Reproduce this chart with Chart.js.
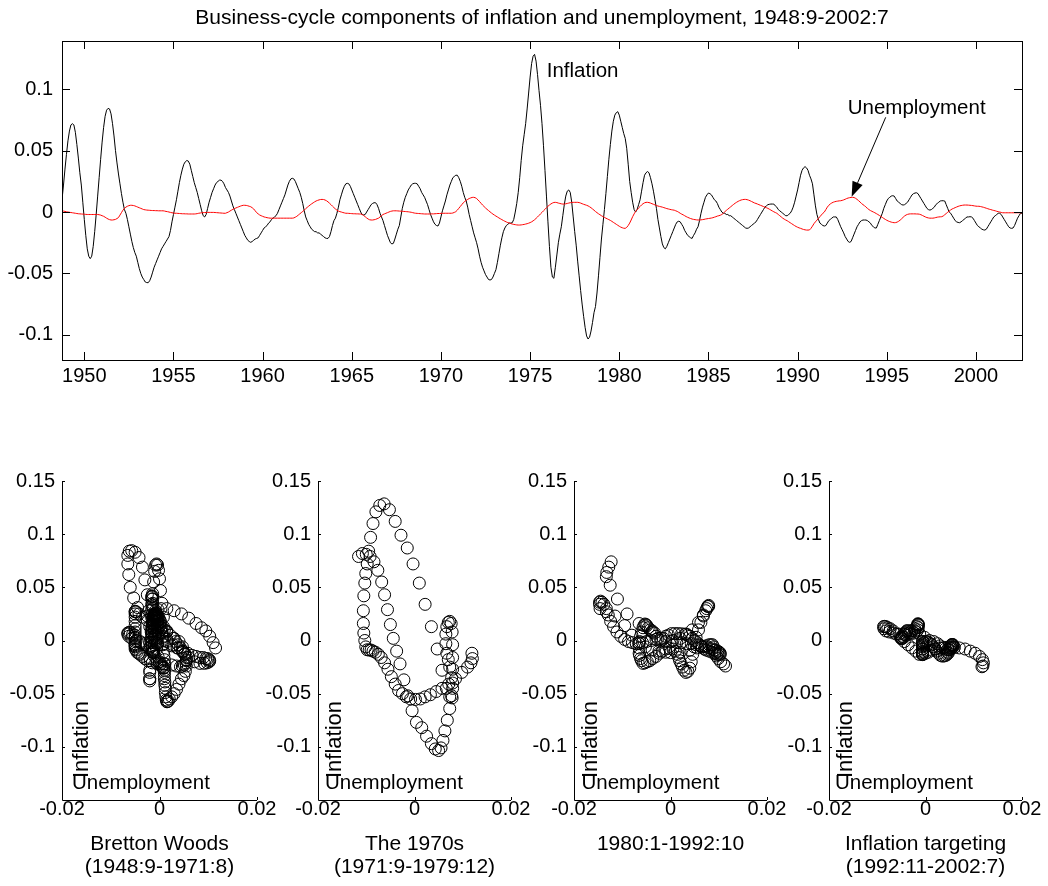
<!DOCTYPE html>
<html><head><meta charset="utf-8">
<script src="https://cdn.jsdelivr.net/npm/chart.js@4.4.1/dist/chart.umd.min.js"></script>
<style>
html,body{margin:0;padding:0;background:#fff;width:1048px;height:886px;overflow:hidden;}
canvas{position:absolute;}
</style></head><body>
<canvas id="top" width="1048" height="400" style="left:0;top:0"></canvas>
<canvas id="p0"></canvas><canvas id="p1"></canvas><canvas id="p2"></canvas><canvas id="p3"></canvas>
<script>
// ---- data (monthly, 1948:9 - 2002:7) ----
const startYear = 1948, startMonth = 9;
const inflation = [
 0.010,0.022,0.035,0.047,
 0.058,0.066,0.071,0.072,0.071,0.065,0.055,0.044,0.032,0.022,0.008,-0.006,
 -0.019,-0.030,-0.036,-0.038,-0.036,-0.028,-0.016,-0.002,0.013,0.028,0.043,0.057,
 0.069,0.078,0.083,0.0845,0.084,0.080,0.072,0.062,0.050,0.040,0.031,0.023,
 0.015,0.008,0.002,-0.001,-0.006,-0.012,-0.018,-0.024,-0.029,-0.033,-0.036,-0.041,
 -0.046,-0.050,-0.053,-0.055,-0.057,-0.0575,-0.0576,-0.056,-0.053,-0.049,-0.045,-0.042,
 -0.039,-0.036,-0.033,-0.030,-0.028,-0.026,-0.024,-0.022,-0.020,-0.015,-0.008,-0.002,
 0.004,0.010,0.017,0.024,0.030,0.035,0.039,0.041,0.042,0.0415,0.039,0.034,
 0.029,0.024,0.020,0.016,0.011,0.006,0.001,-0.003,-0.004,-0.002,0.003,0.008,
 0.012,0.016,0.019,0.022,0.024,0.025,0.026,0.026,0.025,0.023,0.020,0.018,
 0.016,0.013,0.009,0.005,0.002,-0.001,-0.004,-0.007,-0.010,-0.013,-0.016,-0.019,
 -0.021,-0.023,-0.024,-0.0247,-0.024,-0.023,-0.022,-0.0215,-0.021,-0.019,-0.017,-0.015,
 -0.013,-0.012,-0.011,-0.009,-0.008,-0.006,-0.005,-0.004,-0.003,-0.001,0.002,0.005,
 0.008,0.011,0.014,0.018,0.022,0.025,0.027,0.0275,0.027,0.025,0.022,0.019,
 0.016,0.012,0.007,0.001,-0.004,-0.007,-0.010,-0.012,-0.014,-0.015,-0.016,-0.016,
 -0.017,-0.017,-0.018,-0.019,-0.020,-0.021,-0.0215,-0.0215,-0.020,-0.016,-0.011,-0.007,
 -0.005,-0.001,0.004,0.010,0.014,0.018,0.021,0.023,0.0234,0.023,0.021,0.018,
 0.015,0.012,0.009,0.006,0.003,0.000,-0.002,-0.0024,-0.002,0.000,0.002,0.004,
 0.006,0.007,0.0076,0.0076,0.006,0.003,-0.001,-0.004,-0.007,-0.011,-0.015,-0.019,
 -0.022,-0.025,-0.026,-0.0255,-0.022,-0.018,-0.014,-0.011,-0.004,0.003,0.008,0.012,
 0.015,0.018,0.020,0.022,0.023,0.0234,0.0234,0.023,0.021,0.019,0.016,0.014,
 0.012,0.009,0.006,0.002,-0.002,-0.005,-0.008,-0.010,-0.011,-0.0114,-0.009,-0.004,
 0.001,0.005,0.009,0.014,0.018,0.022,0.025,0.028,0.029,0.030,0.030,0.028,
 0.025,0.021,0.016,0.012,0.009,0.004,-0.002,-0.007,-0.012,-0.017,-0.021,-0.025,
 -0.030,-0.036,-0.041,-0.045,-0.048,-0.051,-0.053,-0.055,-0.0554,-0.055,-0.053,-0.050,
 -0.047,-0.041,-0.034,-0.027,-0.021,-0.016,-0.013,-0.011,-0.010,-0.009,-0.009,-0.0087,
 -0.006,0.000,0.007,0.016,0.028,0.042,0.054,0.063,0.072,0.084,0.097,0.110,
 0.121,0.127,0.1285,0.123,0.112,0.099,0.087,0.072,0.054,0.034,0.013,-0.008,
 -0.028,-0.045,-0.053,-0.054,-0.045,-0.035,-0.025,-0.018,-0.012,-0.003,0.006,0.013,
 0.017,0.018,0.016,0.008,-0.004,-0.016,-0.027,-0.040,-0.052,-0.064,-0.075,-0.085,
 -0.094,-0.101,-0.1035,-0.102,-0.097,-0.090,-0.082,-0.077,-0.066,-0.052,-0.037,-0.022,
 -0.010,0.002,0.015,0.029,0.043,0.055,0.066,0.074,0.079,0.081,0.0818,0.079,
 0.074,0.069,0.064,0.060,0.052,0.039,0.025,0.016,0.008,0.002,0.000,0.002,
 0.006,0.010,0.017,0.024,0.030,0.032,0.033,0.032,0.028,0.023,0.017,0.010,
 0.003,-0.006,-0.013,-0.020,-0.026,-0.029,-0.030,-0.028,-0.025,-0.022,-0.019,-0.016,
 -0.013,-0.010,-0.008,-0.0075,-0.008,-0.010,-0.012,-0.015,-0.017,-0.019,-0.020,-0.021,
 -0.0215,-0.019,-0.017,-0.014,-0.012,-0.007,-0.001,0.004,0.008,0.012,0.014,0.0155,
 0.015,0.014,0.012,0.010,0.009,0.007,0.004,0.002,0.000,-0.001,-0.001,-0.002,
 -0.002,-0.003,-0.003,-0.004,-0.005,-0.006,-0.007,-0.008,-0.009,-0.010,-0.011,-0.012,
 -0.013,-0.0133,-0.013,-0.012,-0.011,-0.010,-0.009,-0.008,-0.006,-0.004,-0.002,0.000,
 0.002,0.004,0.005,0.006,0.0063,0.0065,0.0065,0.0065,0.005,0.004,0.002,0.001,
 0.000,-0.001,-0.002,-0.003,-0.003,-0.002,-0.001,0.001,0.004,0.008,0.013,0.018,
 0.024,0.030,0.034,0.036,0.037,0.036,0.034,0.030,0.027,0.023,0.014,0.005,
 -0.002,-0.006,-0.009,-0.010,-0.011,-0.0114,-0.011,-0.009,-0.007,-0.006,-0.005,-0.004,
 -0.004,-0.004,-0.006,-0.009,-0.012,-0.0145,-0.017,-0.020,-0.022,-0.024,-0.0247,-0.024,
 -0.021,-0.018,-0.015,-0.012,-0.010,-0.008,-0.007,-0.0065,-0.0065,-0.0065,-0.007,-0.008,
 -0.009,-0.011,-0.012,-0.013,-0.013,-0.010,-0.007,-0.004,-0.001,0.003,0.006,0.009,
 0.011,0.012,0.013,0.0133,0.013,0.011,0.009,0.008,0.007,0.006,0.0057,0.006,
 0.007,0.008,0.010,0.012,0.014,0.015,0.0155,0.0157,0.015,0.013,0.011,0.009,
 0.007,0.005,0.003,0.002,0.0016,0.002,0.003,0.004,0.006,0.007,0.008,0.009,
 0.0092,0.0092,0.009,0.006,0.003,0.000,-0.001,-0.003,-0.005,-0.007,-0.008,-0.0085,
 -0.0087,-0.008,-0.007,-0.006,-0.005,-0.004,-0.004,-0.0038,-0.004,-0.005,-0.007,-0.009,
 -0.011,-0.012,-0.013,-0.014,-0.0145,-0.0147,-0.014,-0.012,-0.010,-0.008,-0.006,-0.004,
 -0.003,-0.002,-0.001,-0.001,-0.002,-0.004,-0.006,-0.008,-0.010,-0.012,-0.013,-0.0133,
 -0.013,-0.011,-0.008,-0.005,-0.003,-0.001,-0.001
];
const unemployment = [
 0.001,0.0008,0.0005,0.0002,
 0.000,-0.0002,-0.0004,-0.0006,-0.0008,-0.001,-0.0012,-0.0014,-0.0015,-0.0016,-0.0017,-0.0018,
 -0.0019,-0.002,-0.002,-0.002,-0.002,-0.002,-0.002,-0.002,-0.002,-0.0022,-0.0025,-0.003,
 -0.0035,-0.0042,-0.005,-0.0057,-0.0062,-0.0065,-0.0065,-0.0063,-0.006,-0.0053,-0.0045,-0.0025,
 -0.0005,0.0015,0.003,0.004,0.0047,0.0052,0.0055,0.0055,0.0053,0.005,0.0045,0.004,
 0.0035,0.003,0.0025,0.002,0.0018,0.0016,0.0015,0.0014,0.0013,0.0012,0.0012,0.0011,
 0.0011,0.001,0.001,0.001,0.001,0.0008,0.0005,0.0003,0.000,-0.0003,-0.0006,-0.0008,
 -0.001,-0.001,-0.0011,-0.0012,-0.0013,-0.0014,-0.0014,-0.0015,-0.0015,-0.0016,-0.0016,-0.0016,
 -0.0016,-0.0016,-0.0015,-0.0013,-0.001,-0.0008,-0.0006,-0.0005,-0.0004,-0.0004,-0.0003,-0.0003,
 -0.0003,-0.0003,-0.0003,-0.0004,-0.0005,-0.0006,-0.0007,-0.0008,-0.0009,-0.001,-0.001,-0.0005,
 0.000,0.0008,0.0015,0.0022,0.0028,0.0033,0.0038,0.0043,0.0048,0.0052,0.0055,0.0055,
 0.0054,0.0051,0.0047,0.0043,0.0035,0.0025,0.001,-0.0005,-0.0015,-0.0024,-0.003,-0.0035,
 -0.004,-0.0043,-0.0046,-0.0048,-0.005,-0.005,-0.005,-0.005,-0.005,-0.005,-0.005,-0.005,
 -0.005,-0.005,-0.005,-0.005,-0.005,-0.005,-0.005,-0.005,-0.0048,-0.0042,-0.0035,-0.0025,
 -0.0015,-0.0005,0.0005,0.0015,0.0028,0.0038,0.0048,0.0058,0.0067,0.0075,0.0083,0.009,
 0.0095,0.0099,0.0102,0.0103,0.0102,0.0098,0.0092,0.0083,0.0072,0.006,0.0048,0.0036,
 0.0025,0.0015,0.0008,0.0003,0.000,-0.0004,-0.0007,-0.001,-0.001,-0.0011,-0.0012,-0.0013,
 -0.0014,-0.0014,-0.0015,-0.0015,-0.0016,-0.0016,-0.002,-0.0028,-0.0038,-0.0048,-0.0057,-0.0063,
 -0.0065,-0.0065,-0.0063,-0.006,-0.0055,-0.005,-0.004,-0.003,-0.002,-0.0015,-0.001,-0.0005,
 0.000,0.0005,0.0008,0.001,0.001,0.001,0.0009,0.0008,0.0007,0.0006,0.0005,0.0004,
 0.0003,0.0002,0.000,-0.0002,-0.0005,-0.0008,-0.001,-0.0011,-0.0012,-0.0013,-0.0014,-0.0015,
 -0.0016,-0.0016,-0.0016,-0.0016,-0.0016,-0.0015,-0.0015,-0.0014,-0.0013,-0.0012,-0.0012,-0.0011,
 -0.0011,-0.001,-0.001,-0.001,-0.001,-0.001,-0.001,-0.0008,-0.0003,0.0003,0.0015,0.003,
 0.0045,0.006,0.0075,0.0086,0.0095,0.0103,0.011,0.0115,0.0119,0.012,0.0117,0.011,
 0.0098,0.0085,0.0071,0.0057,0.0045,0.0033,0.0022,0.0012,0.0002,-0.0008,-0.0017,-0.0025,
 -0.0033,-0.004,-0.0048,-0.0055,-0.0062,-0.0069,-0.0075,-0.0081,-0.0086,-0.009,-0.0094,-0.0098,
 -0.0101,-0.0103,-0.0105,-0.0106,-0.0106,-0.0105,-0.0103,-0.0101,-0.0098,-0.0095,-0.0091,-0.0086,
 -0.008,-0.0072,-0.0063,-0.0052,-0.004,-0.0028,-0.0015,-0.0003,0.001,0.0022,0.0035,0.0047,
 0.0057,0.0066,0.0073,0.0078,0.0079,0.0077,0.0073,0.007,0.0067,0.0065,0.0065,0.0067,
 0.007,0.0073,0.0076,0.0078,0.0079,0.0079,0.0079,0.0079,0.0077,0.0073,0.0068,0.0063,
 0.0059,0.0055,0.005,0.0043,0.0035,0.0025,0.0015,0.0004,-0.0005,-0.0014,-0.0022,-0.003,
 -0.0037,-0.0044,-0.005,-0.0056,-0.0062,-0.0068,-0.0076,-0.0084,-0.0092,-0.01,-0.0108,-0.0116,
 -0.0123,-0.0128,-0.0132,-0.0133,-0.0125,-0.011,-0.009,-0.0065,-0.0038,-0.0015,0.0005,0.002,
 0.0033,0.0045,0.0058,0.0068,0.0075,0.0079,0.0079,0.0077,0.0073,0.0068,0.0063,0.0058,
 0.0053,0.0049,0.0046,0.0043,0.004,0.0036,0.0032,0.0028,0.0025,0.0022,0.0019,0.0017,
 0.0015,0.001,0.0005,-0.0002,-0.001,-0.0017,-0.0023,-0.003,-0.0037,-0.0043,-0.0048,-0.0053,
 -0.0057,-0.006,-0.0062,-0.0064,-0.0065,-0.0065,-0.0064,-0.0062,-0.006,-0.0057,-0.0055,-0.0053,
 -0.0051,-0.0049,-0.0046,-0.0042,-0.0038,-0.0033,-0.003,-0.0026,-0.002,-0.001,0.0002,0.0013,
 0.0023,0.0033,0.0043,0.0053,0.0063,0.0072,0.008,0.0087,0.0093,0.0098,0.0101,0.0103,
 0.0103,0.0101,0.0097,0.0092,0.0086,0.008,0.0074,0.007,0.0065,0.006,0.0055,0.005,
 0.0045,0.004,0.0035,0.003,0.0023,0.0016,0.0009,0.0002,-0.0004,-0.001,-0.002,-0.003,
 -0.004,-0.005,-0.0058,-0.0065,-0.0071,-0.0079,-0.0087,-0.0095,-0.0103,-0.0111,-0.0118,-0.0124,
 -0.0129,-0.0133,-0.0138,-0.0142,-0.0145,-0.0147,-0.0147,-0.0146,-0.0133,-0.0115,-0.0095,-0.008,
 -0.0066,-0.0052,-0.0038,-0.0024,-0.001,0.000,0.002,0.004,0.0055,0.0066,0.0074,0.008,
 0.0084,0.0087,0.0089,0.0091,0.0092,0.0095,0.0099,0.0104,0.011,0.0114,0.0117,0.0119,
 0.012,0.0118,0.0112,0.0103,0.0093,0.0082,0.007,0.006,0.0052,0.004,0.003,0.002,
 0.0012,0.0006,0.000,-0.0006,-0.0013,-0.002,-0.0028,-0.0036,-0.0044,-0.0052,-0.006,-0.0067,
 -0.0073,-0.0078,-0.0082,-0.0085,-0.0087,-0.0086,-0.0082,-0.0075,-0.0066,-0.0055,-0.0043,-0.0032,
 -0.0024,-0.0019,-0.0016,-0.0015,-0.0015,-0.0015,-0.0015,-0.0016,-0.0016,-0.0018,-0.0022,-0.0028,
 -0.0034,-0.004,-0.0045,-0.0048,-0.005,-0.005,-0.005,-0.0048,-0.0045,-0.0042,-0.004,-0.0039,
 -0.0038,-0.0032,-0.0022,-0.0012,-0.0002,0.0008,0.0017,0.0025,0.003,0.0036,0.0041,0.0046,
 0.005,0.0053,0.0055,0.0057,0.0057,0.0057,0.0056,0.0055,0.0054,0.0052,0.005,0.0048,
 0.0047,0.0047,0.0045,0.0042,0.0039,0.0035,0.0031,0.0027,0.0023,0.002,0.0016,0.0013,
 0.001,0.0006,0.0003,0.000,-0.0003,-0.0006,-0.0006,-0.0006,-0.0006,-0.0006,-0.0006,-0.0006,
 -0.0006,-0.0006,-0.0006,-0.0006,-0.0006,-0.0006,-0.0006
];
const topXTicks = [1950,1955,1960,1965,1970,1975,1980,1985,1990,1995,2000];
const topYTicks = [-0.1,-0.05,0,0.05,0.1];
const scatterXTicks = [-0.02,0,0.02];
const scatterYTicks = [-0.1,-0.05,0,0.05,0.1,0.15];
const periods = [
  {label:['Bretton Woods','(1948:9-1971:8)'], from:[1948,9], to:[1971,8]},
  {label:['The 1970s','(1971:9-1979:12)'], from:[1971,9], to:[1979,12]},
  {label:['1980:1-1992:10'], from:[1980,1], to:[1992,10]},
  {label:['Inflation targeting','(1992:11-2002:7)'], from:[1992,11], to:[2002,7]}
];
const titleText = 'Business-cycle components of inflation and unemployment, 1948:9-2002:7';

// ---- layout / style ----
const FONT = '"Liberation Sans", Arial, sans-serif';
Chart.defaults.font.family = FONT;
Chart.defaults.color = '#000';
const monthIndex = ([y, m]) => (y - startYear) * 12 + (m - startMonth);
const timeOf = i => startYear + (startMonth + i) / 12;
const tMin = timeOf(0), tMax = timeOf(inflation.length - 1);
const setTicks = vals => s => { s.ticks = vals.map(v => ({value: v})); };

// ---- top chart ----
const topAnno = {
  id: 'topAnno',
  afterDraw(chart) {
    const {ctx, chartArea: a, scales: {x, y}} = chart;
    ctx.save();
    ctx.strokeStyle = '#000'; ctx.lineWidth = 1;
    ctx.strokeRect(a.left + 0.5, a.top + 0.5, a.right - a.left, a.bottom - a.top);
    const L = 8;
    ctx.beginPath();
    topXTicks.forEach(v => {
      const px = Math.round(x.getPixelForValue(v)) + 0.5;
      ctx.moveTo(px, a.bottom); ctx.lineTo(px, a.bottom - L);
      ctx.moveTo(px, a.top); ctx.lineTo(px, a.top + L);
    });
    topYTicks.forEach(v => {
      const py = Math.round(y.getPixelForValue(v)) + 0.5;
      ctx.moveTo(a.left, py); ctx.lineTo(a.left + L, py);
      ctx.moveTo(a.right, py); ctx.lineTo(a.right - L, py);
    });
    ctx.stroke();
    ctx.fillStyle = '#000';
    ctx.font = '20.5px ' + FONT;
    ctx.textAlign = 'left'; ctx.textBaseline = 'middle';
    ctx.fillText('Inflation', x.getPixelForValue(1975.93), y.getPixelForValue(0.115));
    ctx.fillText('Unemployment', x.getPixelForValue(1992.81), y.getPixelForValue(0.0844));
    // arrow
    const x0 = x.getPixelForValue(1994.94), y0 = y.getPixelForValue(0.0772);
    const x1 = x.getPixelForValue(1993.03), y1 = y.getPixelForValue(0.0125);
    const ang = Math.atan2(y1 - y0, x1 - x0), hl = 15, hw = 5.5;
    const bx = x1 - hl * Math.cos(ang), by = y1 - hl * Math.sin(ang);
    ctx.beginPath(); ctx.moveTo(x0, y0); ctx.lineTo(bx, by); ctx.stroke();
    ctx.beginPath();
    ctx.moveTo(x1, y1);
    ctx.lineTo(bx + hw * Math.sin(ang), by - hw * Math.cos(ang));
    ctx.lineTo(bx - hw * Math.sin(ang), by + hw * Math.cos(ang));
    ctx.closePath(); ctx.fill();
    ctx.restore();
  }
};

new Chart(document.getElementById('top'), {
  type: 'line',
  data: {
    datasets: [
      {label: 'Unemployment', data: unemployment.map((v, i) => ({x: timeOf(i), y: v})),
       borderColor: '#ff0000', borderWidth: 1, pointRadius: 0, fill: false, tension: 0, order: 0},
      {label: 'Inflation', data: inflation.map((v, i) => ({x: timeOf(i), y: v})),
       borderColor: '#000000', borderWidth: 1, pointRadius: 0, fill: false, tension: 0, order: 1}
    ]
  },
  options: {
    responsive: false, animation: false, devicePixelRatio: 1, events: [],
    layout: {padding: {left: 0, right: 26, top: 0, bottom: 10}},
    plugins: {
      legend: {display: false}, tooltip: {enabled: false},
      title: {display: true, fullSize: false, text: titleText, color: '#000',
              font: {size: 21, weight: 'normal', lineHeight: 1.2}, padding: {top: 5.5, bottom: 10.3}}
    },
    scales: {
      x: {type: 'linear', min: tMin, max: tMax,
          afterBuildTicks: setTicks(topXTicks), afterFit: s => { s.height = 30; },
          grid: {display: false, drawTicks: false}, border: {display: false},
          ticks: {padding: 6, autoSkip: false, maxRotation: 0, font: {size: 20, lineHeight: 1}, color: '#000',
                  callback: v => String(v)}},
      y: {type: 'linear', min: -0.1206, max: 0.1394,
          afterBuildTicks: setTicks(topYTicks), afterFit: s => { s.width = 62; },
          grid: {display: false, drawTicks: false}, border: {display: false},
          ticks: {padding: 9, autoSkip: false, font: {size: 20, lineHeight: 1}, color: '#000',
                  callback: v => String(v)}}
    }
  },
  plugins: [topAnno]
});

// ---- scatter panels ----
const panelAreas = [[62, 257], [318, 511], [574, 767], [829, 1022]];
const panelTextOffsets = [{u: 10, i: 26}, {u: 7, i: 22.5}, {u: 7.5, i: 22.5}, {u: 6, i: 23}];
const panelTop = 440, areaTop = 481, areaBottom = 800, canvasH = 446;

periods.forEach((p, k) => {
  const [aL, aR] = panelAreas[k];
  const cv = document.getElementById('p' + k);
  const W = 62 + (aR - aL) + 40;
  cv.width = W; cv.height = canvasH;
  cv.style.left = (aL - 62) + 'px'; cv.style.top = panelTop + 'px';
  const i0 = monthIndex(p.from), i1 = monthIndex(p.to);
  const pts = [];
  for (let i = i0; i <= i1; i++) pts.push({x: unemployment[i], y: inflation[i]});
  const off = panelTextOffsets[k];
  const panelDeco = {
    id: 'panelDeco' + k,
    afterDraw(chart) {
      const {ctx, chartArea: a, scales: {x, y}} = chart;
      ctx.save();
      ctx.strokeStyle = '#000'; ctx.lineWidth = 1;
      ctx.beginPath();
      ctx.moveTo(a.left + 0.5, a.top); ctx.lineTo(a.left + 0.5, a.bottom + 0.5); ctx.lineTo(a.right, a.bottom + 0.5);
      scatterXTicks.forEach(v => {
        const px = Math.round(x.getPixelForValue(v)) + 0.5;
        ctx.moveTo(px, a.bottom); ctx.lineTo(px, a.bottom - 3);
      });
      scatterYTicks.forEach(v => {
        const py = Math.round(y.getPixelForValue(v)) + 0.5;
        ctx.moveTo(a.left, py); ctx.lineTo(a.left + 3, py);
      });
      ctx.stroke();
      ctx.fillStyle = '#000';
      ctx.textAlign = 'left'; ctx.textBaseline = 'alphabetic';
      ctx.font = '20.5px ' + FONT;
      ctx.fillText('Unemployment', a.left + off.u, a.bottom - 11);
      ctx.translate(a.left + off.i, a.bottom - 22);
      ctx.rotate(-Math.PI / 2);
      ctx.font = '22px ' + FONT;
      ctx.fillText('Inflation', 0, 0);
      ctx.restore();
    }
  };
  const twoLines = p.label.length > 1;
  new Chart(cv, {
    type: 'scatter',
    data: {datasets: [{label: p.label.join(' '), data: pts, showLine: false,
      pointRadius: 6, pointBorderWidth: 1, pointBorderColor: '#000', pointBackgroundColor: 'rgba(0,0,0,0)',
      borderColor: '#000', backgroundColor: 'rgba(0,0,0,0)'}]},
    options: {
      responsive: false, animation: false, devicePixelRatio: 1, events: [],
      layout: {padding: {left: 0, right: 40, top: areaTop - panelTop, bottom: canvasH - (areaBottom - panelTop) - 80}},
      plugins: {legend: {display: false}, tooltip: {enabled: false}},
      scales: {
        x: {type: 'linear', min: -0.02, max: 0.02,
            afterBuildTicks: setTicks(scatterXTicks), afterFit: s => { s.height = 80; },
            grid: {display: false, drawTicks: false}, border: {display: false},
            ticks: {padding: -1, autoSkip: false, maxRotation: 0, font: {size: 20, lineHeight: 1}, color: '#000',
                    callback: v => String(v)},
            title: {display: true, text: p.label, color: '#000', font: {size: 21, lineHeight: 1.1},
                    padding: {top: 0, bottom: twoLines ? 0.75 : 23.95}}},
        y: {type: 'linear', min: -0.15, max: 0.15,
            afterBuildTicks: setTicks(scatterYTicks), afterFit: s => { s.width = 62; },
            grid: {display: false, drawTicks: false}, border: {display: false},
            ticks: {padding: 7, autoSkip: false, font: {size: 20, lineHeight: 1}, color: '#000',
                    callback: v => String(v)}}
      }
    },
    plugins: [panelDeco]
  });
});
</script>
</body></html>
